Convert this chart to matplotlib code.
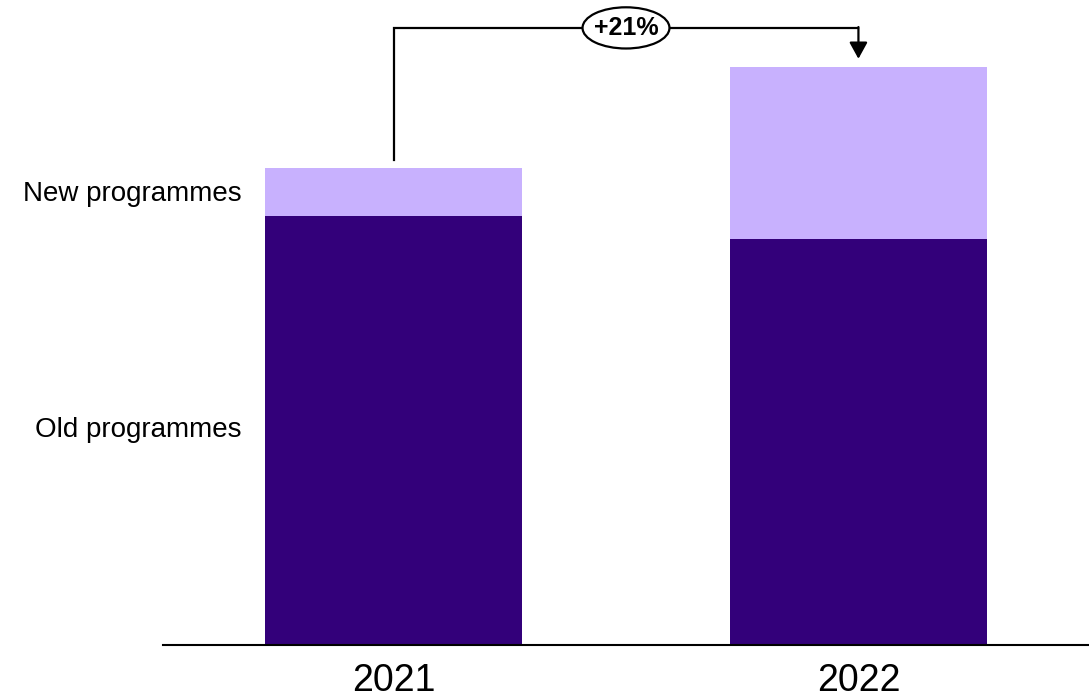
import matplotlib.pyplot as plt
from matplotlib.patches import Ellipse
import numpy as np

plt.rcParams['font.family'] = ['Liberation Sans', 'DejaVu Sans']

years = ['2021', '2022']
old_prog = [100.0, 94.6]
new_prog = [11.2, 40.1]
growth_label = '+21%'
series_names = ['Old programmes', 'New programmes']

dark = '#33007A'
light = '#C8B1FE'

fig = plt.figure(figsize=(10.89, 6.99), dpi=100)
ax = fig.add_axes([163 / 1089, 54 / 699, 926 / 1089, 645 / 699])

x = np.arange(len(years))
w = 0.553
ax.bar(x, old_prog, width=w, color=dark)
ax.bar(x, new_prog, width=w, bottom=old_prog, color=light)

ax.set_xlim(-0.496, 1.496)
ax.set_ylim(0, 150.3)

for s in ['top', 'right', 'left']:
    ax.spines[s].set_visible(False)
ax.spines['bottom'].set_linewidth(1.5)
ax.set_yticks([])
ax.set_xticks(x)
ax.set_xticklabels(years, fontsize=27)
ax.tick_params(axis='x', length=0, pad=13)

# labels next to the first bar
gap = 0.05
ax.text(x[0] - w / 2 - gap, old_prog[0] / 2, series_names[0],
        ha='right', va='center', fontsize=20)
ax.text(x[0] - w / 2 - gap, old_prog[0] + new_prog[0] / 2 - 0.5, series_names[1],
        ha='right', va='center', fontsize=20)

# growth bracket
tot = [o + n for o, n in zip(old_prog, new_prog)]
top = max(tot) + 9.1
off = 1.9
ax.plot([x[0], x[0], x[1]], [tot[0] + off, top, top], color='black', lw=1.6,
        clip_on=False, solid_joinstyle='miter')
ax.annotate('', xy=(x[1], tot[1] + off), xytext=(x[1], top + 0.2),
            arrowprops=dict(arrowstyle='-|>,head_length=1.0,head_width=0.55',
                            color='black', lw=1.6, shrinkA=0, shrinkB=0),
            annotation_clip=False)
mid = (x[0] + x[1]) / 2
ax.add_patch(Ellipse((mid, top), 0.187, 9.6, fc='white', ec='black', lw=1.6,
                     clip_on=False, zorder=5))
ax.text(mid, top, growth_label, ha='center', va='center',
        fontsize=18, fontweight='bold', zorder=6)

fig.savefig('out.png', dpi=100)
